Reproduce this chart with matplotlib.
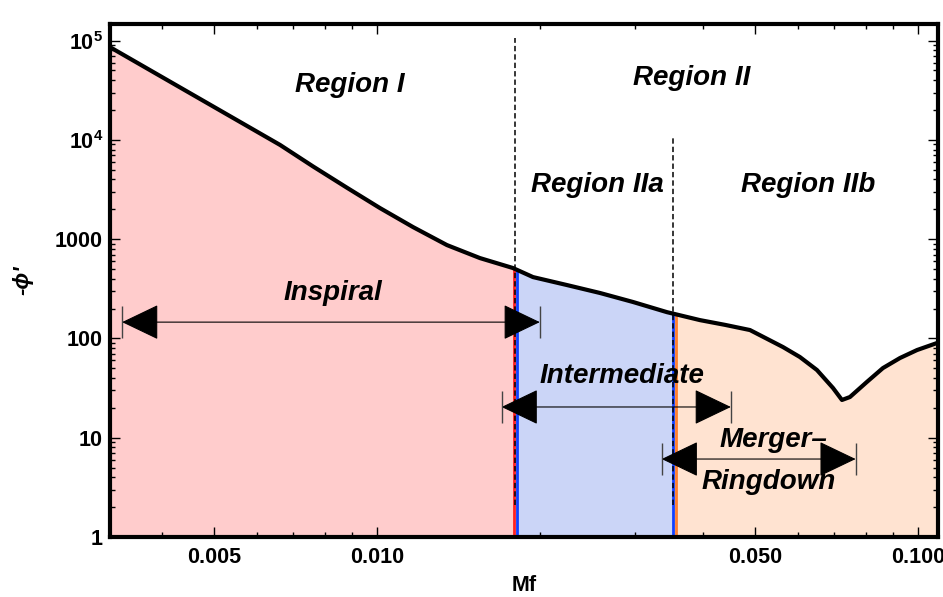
import numpy as np
import matplotlib.pyplot as plt
from matplotlib import transforms
from matplotlib.ticker import FixedLocator, NullFormatter

plt.rcParams['font.family'] = ['Liberation Sans', 'DejaVu Sans']
plt.rcParams['mathtext.fontset'] = 'custom'
plt.rcParams['mathtext.rm'] = 'Liberation Sans:bold'
plt.rcParams['mathtext.bf'] = 'Liberation Sans:bold'

# -phi' curve
mf = [0.00321, 0.00662, 0.00762, 0.00880, 0.01013,
      0.01166, 0.01347, 0.01550, 0.01784, 0.01943, 0.02245, 0.02584, 0.02973,
      0.03436, 0.03954, 0.04400, 0.04892, 0.05630, 0.06050, 0.06505, 0.06965,
      0.07236, 0.07486, 0.08043, 0.08614, 0.09262, 0.09959, 0.10842]
phi = [86000, 8900, 5400, 3300, 2057,
       1324, 872, 645, 512, 415, 345, 287, 233,
       184, 153, 137, 121.5, 81.9, 65.0, 48.1, 31.7,
       24.0, 25.7, 36.4, 50.3, 63.5, 76.4, 89.9]

f_ins = 0.018      # end of region I
f_int = 0.0353     # end of region IIa
x_lim = (0.00321, 0.1089)
y_lim = (1, 1.47e5)

# region labels: text, x, baseline y
region_labels = [('Region I', 0.00891, 30300), ('Region II', 0.0382, 35600),
                 ('Region IIa', 0.0255, 2980), ('Region IIb', 0.0626, 2980),
                 ('Inspiral', 0.00829, 244), ('Intermediate', 0.02838, 35.6),
                 ('Merger\u2013', 0.0540, 8.06), ('Ringdown', 0.0530, 3.04)]

# double arrows: start, end, height
ranges = [(0.00338, 0.0200, 146), (0.0170, 0.0451, 20.4), (0.0336, 0.0767, 6.1)]

# dashed separators: x, top
separators = [(f_ins, 1.06e5), (f_int, 1.05e4)]

xticks_major = [0.005, 0.010, 0.050, 0.100]
xtick_labels = ['0.005', '0.010', '0.050', '0.100']
yticks_major = [1, 10, 100, 1000, 1e4, 1e5]
ytick_labels = ['1', '10', '100', '1000', r'$\mathbf{10^{4}}$', r'$\mathbf{10^{5}}$']

fig = plt.figure(figsize=(9.43, 5.97), dpi=100)
ax = fig.add_axes([0.1166, 0.1005, 0.8781, 0.8593])
ax.set_xscale('log')
ax.set_yscale('log')

lx = np.log10(mf)
ly = np.log10(phi)


def curve_at(f):
    return 10 ** np.interp(np.log10(f), lx, ly)


def segment(a, b):
    xs = [a] + [m for m in mf if a < m < b] + [b]
    return np.array(xs), curve_at(np.array(xs))


colors = ['#ffcccc', '#cbd5f7', '#ffe3d1']
bounds = [(x_lim[0], f_ins), (f_ins, f_int), (f_int, x_lim[1])]
for (a, b), c in zip(bounds, colors):
    xs, ys = segment(a, b)
    ax.fill_between(xs, 1, ys, color=c, lw=0, zorder=1)

# coloured edges of the filled regions
edges = [(f_ins, '#ff2020', -0.7), (f_ins, '#1040ff', 1.3),
         (f_int, '#1040ff', 0.0), (f_int, '#ff8030', 2.2)]
for f, c, dx in edges:
    tr = transforms.offset_copy(ax.transData, fig=fig, x=dx, y=0, units='points')
    ax.plot([f, f], [1, curve_at(f)], color=c, lw=2.0, transform=tr, zorder=2,
            solid_capstyle='butt')

for f, top in separators:
    ax.plot([f, f], [2.1, top], color='black', lw=1.1, ls=(0, (3.5, 2)), zorder=4)

ax.plot(mf, phi, color='black', lw=3, zorder=5, solid_joinstyle='round')

for x0, x1, y in ranges:
    ax.annotate('', xy=(x1, y), xytext=(x0, y),
                arrowprops=dict(arrowstyle='<|-|>,head_length=2.4,head_width=1.15',
                                mutation_scale=10, color='black', lw=0.8,
                                shrinkA=0, shrinkB=0), zorder=6)
    ax.plot([x0, x1], [y, y], ls='none', marker='|', ms=23, mew=1,
            color='#444444', zorder=6)

for text, x, y in region_labels:
    ax.text(x, y, text, fontsize=20, fontweight='bold', fontstyle='italic',
            ha='center', va='baseline', zorder=7)

ax.set_xlim(*x_lim)
ax.set_ylim(*y_lim)

ax.xaxis.set_major_locator(FixedLocator(xticks_major))
ax.set_xticklabels(xtick_labels)
ax.xaxis.set_minor_locator(FixedLocator([0.004, 0.006, 0.007, 0.008, 0.009,
                                         0.02, 0.03, 0.04, 0.06, 0.07, 0.08, 0.09]))
ax.xaxis.set_minor_formatter(NullFormatter())
ax.yaxis.set_major_locator(FixedLocator(yticks_major))
ax.set_yticklabels(ytick_labels)
ax.yaxis.set_minor_locator(FixedLocator([m * 10 ** e for e in range(0, 6)
                                         for m in range(2, 10)]))
ax.yaxis.set_minor_formatter(NullFormatter())

ax.tick_params(which='both', direction='in', top=True, right=True, width=1)
ax.tick_params(which='major', length=7, labelsize=15.5)
ax.tick_params(which='minor', length=3.5)
ax.tick_params(axis='x', pad=7)
ax.tick_params(axis='y', pad=5)
for lab in ax.get_xticklabels() + ax.get_yticklabels():
    lab.set_fontweight('bold')

for s in ax.spines.values():
    s.set_linewidth(3)
    s.set_zorder(8)

ax.set_xlabel('Mf', fontsize=15.5, fontweight='bold')
ax.set_ylabel("-\u03d5'", fontsize=16, fontweight='bold', fontstyle='italic')
ax.xaxis.set_label_coords(0.5, -0.075)
ax.yaxis.set_label_coords(-0.093, 0.5)

fig.savefig('out.png', dpi=100)
